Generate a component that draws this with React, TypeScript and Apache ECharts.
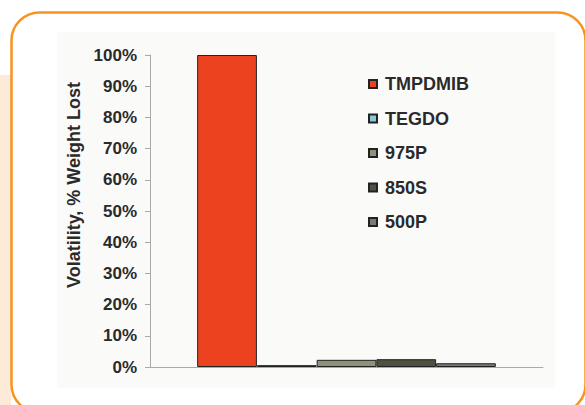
import React, { useEffect, useRef } from "react";
import * as echarts from "echarts";

// Volatility (% weight lost) per material
const categories = [""];
const seriesNames = ["TMPDMIB", "TEGDO", "975P", "850S", "500P"];
const seriesValues = [100, 0.6, 2.3, 2.5, 1.2];
const seriesColors = ["#EC4220", "#8CC6DA", "#8E9276", "#4E5142", "#7A7A7A"];
const yTicks = [0, 10, 20, 30, 40, 50, 60, 70, 80, 90, 100];

const FONT = "'Liberation Sans', Arial, Helvetica, sans-serif";

export default function App() {
  const ref = useRef<HTMLDivElement>(null);

  useEffect(() => {
    if (!ref.current) return;
    const chart = echarts.init(ref.current, undefined, { renderer: "svg" });

    const series = seriesNames.map((name, i) => ({
      name,
      type: "bar" as const,
      data: [seriesValues[i]],
      barGap: "0%",
      barCategoryGap: "24%",
      itemStyle: {
        color: seriesColors[i],
        borderColor: "#222",
        borderWidth: 1,
      },
    }));

    chart.setOption({
      animation: false,
      backgroundColor: "#ffffff",
      textStyle: { fontFamily: FONT },
      graphic: [
        // peach side strip
        {
          type: "rect",
          z: -20,
          shape: { x: 0, y: 75, width: 11, height: 340 },
          style: { fill: "#FDEAD8" },
        },
        // soft panel behind the plot
        {
          type: "rect",
          z: -15,
          shape: { x: 57, y: 32, width: 498, height: 356 },
          style: { fill: "#FAFAF9" },
        },
        // orange rounded frame
        {
          type: "rect",
          z: -10,
          shape: { x: 11.5, y: 12.5, width: 574, height: 400, r: 28 },
          style: { fill: "none", stroke: "#F7941E", lineWidth: 2.5 },
        },
      ],
      legend: {
        orient: "vertical",
        left: 363,
        top: 69,
        itemWidth: 8,
        itemHeight: 8,
        itemGap: 14.5,
        icon: "rect",
        data: seriesNames,
        textStyle: {
          fontFamily: FONT,
          fontSize: 18,
          fontWeight: "bold",
          color: "#2a2a2a",
          lineHeight: 20,
          padding: [0, 0, 0, 3],
        },
      },
      grid: { left: 150, right: 42, top: 55, bottom: 38, containLabel: false },
      xAxis: {
        type: "category",
        data: categories,
        axisLine: { lineStyle: { color: "#AAAAAA", width: 1 } },
        axisTick: { show: false },
        axisLabel: { show: false },
      },
      yAxis: {
        type: "value",
        min: yTicks[0],
        max: yTicks[yTicks.length - 1],
        interval: 10,
        name: "Volatility, % Weight Lost",
        nameLocation: "middle",
        nameRotate: 90,
        nameGap: 67,
        nameTextStyle: {
          fontFamily: FONT,
          fontSize: 18,
          fontWeight: "bold",
          color: "#2a2a2a",
          padding: [0, 0, 0, 52],
        },
        axisLine: { show: true, lineStyle: { color: "#AAAAAA", width: 1 } },
        axisTick: { show: true, length: 5, lineStyle: { color: "#AAAAAA" } },
        splitLine: { show: false },
        axisLabel: {
          formatter: "{value}%",
          margin: 13,
          fontFamily: FONT,
          fontSize: 17,
          fontWeight: "bold",
          color: "#2a2a2a",
        },
      },
      series,
    });

    return () => chart.dispose();
  }, []);

  return (
    <div
      ref={ref}
      style={{ position: "absolute", left: 0, top: 0, width: 585, height: 405 }}
    />
  );
}
